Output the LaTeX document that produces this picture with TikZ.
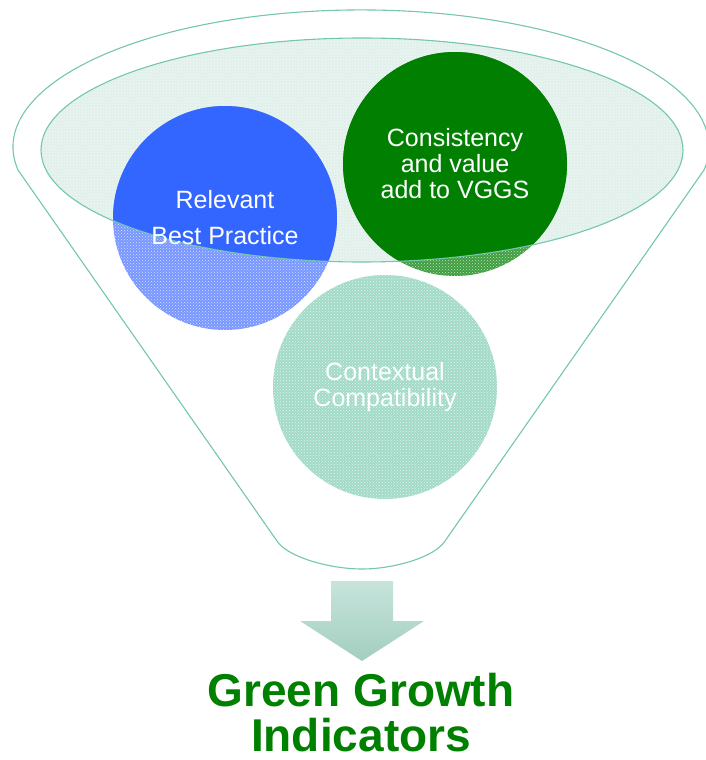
\documentclass[tikz,border=0pt]{standalone}
\usepackage{fontspec}
\setmainfont{Liberation Sans}
\usetikzlibrary{patterns}

\definecolor{rimline}{HTML}{74C6AE}
\definecolor{mouth}{HTML}{E1F0EB}
\definecolor{bluemain}{HTML}{3366FF}
\definecolor{bluefade}{HTML}{7896FF}
\definecolor{greenmain}{HTML}{007F00}
\definecolor{greenfade}{HTML}{3F9E3F}
\definecolor{tealfade}{HTML}{A2DAC8}
\definecolor{arrowtop}{HTML}{C7E4DB}
\definecolor{arrowbot}{HTML}{A2CEC0}
\definecolor{titlegreen}{HTML}{008000}

\begin{document}
\begin{tikzpicture}[x=1pt,y=-1pt,
  funnel/.style={draw=rimline, line width=1.1pt},
  faded/.style={postaction={pattern=crosshatch dots, pattern color=white!70!#1}},
  bubble/.style={circle, minimum size=224pt, inner sep=0pt, text=white, align=center},
  bubbletext/.style={font=\fontsize{25}{26}\selectfont},
  result/.style={anchor=base, inner sep=0pt, text depth=0pt, text=titlegreen,
    font=\fontsize{46}{47}\selectfont\bfseries}]
\useasboundingbox (0,0) rectangle (706,760);

% mouth of the funnel
\fill[mouth, faded=mouth] (362,150) ellipse[x radius=321, y radius=112];

% the bubbles, washed out below the rim
\coordinate (relc) at (225,218);
\coordinate (conc) at (455,164);
\coordinate (ctxc) at (385,387);
\fill[bluefade, faded=bluefade] (relc) circle[radius=112];
\fill[greenfade, faded=greenfade] (conc) circle[radius=112];
\fill[tealfade, faded=tealfade] (ctxc) circle[radius=112];
\begin{scope}
  \clip (362,150) ellipse[x radius=321, y radius=112];
  \fill[bluemain] (relc) circle[radius=112];
  \fill[greenmain] (conc) circle[radius=112];
\end{scope}

% outlines
\draw[funnel] (362,150) ellipse[x radius=321, y radius=112];
\draw[funnel] (277,541) -- (18,170)
  arc[start angle=170.3, end angle=369.7, x radius=348, y radius=137]
  -- (445,541) .. controls (435,557) and (394,569) .. (362,569)
  .. controls (330,569) and (287,557) .. (277,541);

% labels
\node[bubble, font=\fontsize{25}{36}\selectfont] (rel) at (relc) {Relevant\\Best Practice};
\node[bubble, bubbletext] (con) at (conc) {Consistency\\and value\\add to VGGS};
\node[bubble, bubbletext] (ctx) at (ctxc) {Contextual\\Compatibility};

% output arrow
\shade[top color=arrowtop, bottom color=arrowbot]
  (331,581) -- (393,581) -- (393,621) -- (424,621) -- (362,661)
  -- (300,621) -- (331,621) -- cycle;
\node[result] (gg) at (361,706) {Green Growth};
\node[result] (ind) at (361,751) {Indicators};
\end{tikzpicture}
\end{document}
